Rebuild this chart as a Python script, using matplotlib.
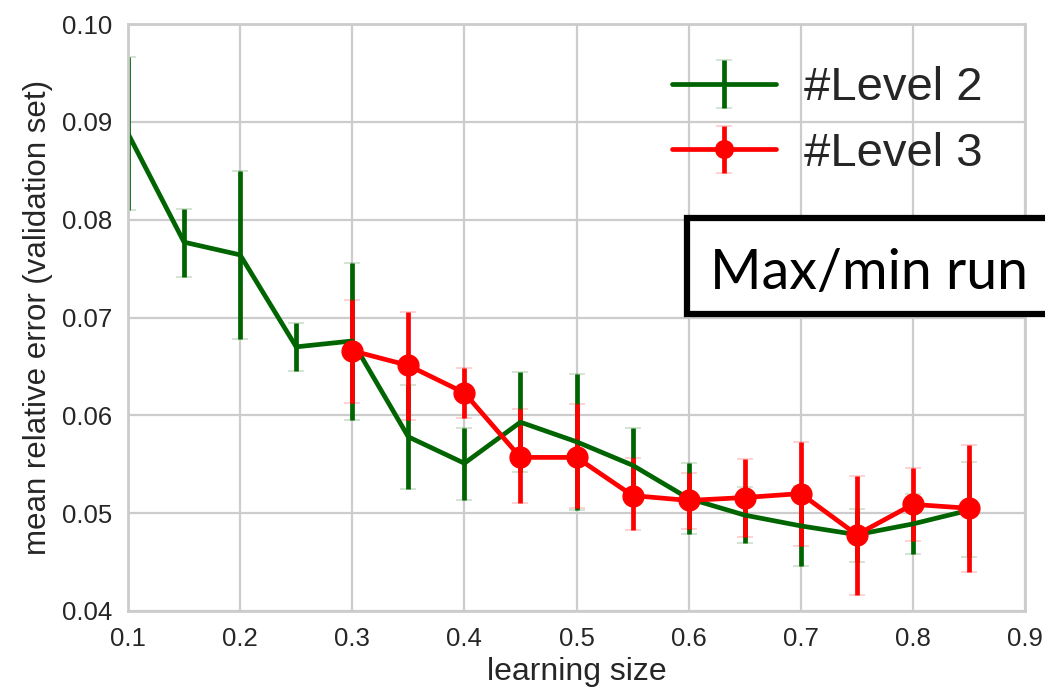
import matplotlib
matplotlib.use("Agg")
import matplotlib.pyplot as plt
import seaborn as sns
from matplotlib.patches import Rectangle

# ---- data ----
x_level2 = [0.10, 0.15, 0.20, 0.25, 0.30, 0.35, 0.40, 0.45, 0.50, 0.55, 0.60, 0.65, 0.70, 0.75, 0.80, 0.85]
mean_level2 = [0.0888, 0.0777, 0.0764, 0.0670, 0.0676, 0.0578, 0.0551, 0.0593, 0.0573, 0.0549, 0.0515, 0.0498, 0.0487, 0.0478, 0.0489, 0.0503]
max_level2 = [0.0966, 0.0811, 0.0850, 0.0694, 0.0756, 0.0631, 0.0587, 0.0644, 0.0642, 0.0587, 0.0551, 0.0527, 0.0528, 0.0504, 0.0520, 0.0552]
min_level2 = [0.0810, 0.0741, 0.0678, 0.0645, 0.0595, 0.0525, 0.0513, 0.0542, 0.0503, 0.0511, 0.0479, 0.0469, 0.0446, 0.0450, 0.0458, 0.0455]

x_level3 = [0.30, 0.35, 0.40, 0.45, 0.50, 0.55, 0.60, 0.65, 0.70, 0.75, 0.80, 0.85]
mean_level3 = [0.0666, 0.0651, 0.0623, 0.0557, 0.0557, 0.0518, 0.0513, 0.0516, 0.0520, 0.0478, 0.0509, 0.0505]
max_level3 = [0.0718, 0.0706, 0.0648, 0.0606, 0.0612, 0.0556, 0.0541, 0.0555, 0.0573, 0.0538, 0.0546, 0.0570]
min_level3 = [0.0613, 0.0595, 0.0597, 0.0510, 0.0505, 0.0483, 0.0484, 0.0476, 0.0466, 0.0416, 0.0472, 0.0440]

labels = ["#Level 2", "#Level 3"]
x_ticks = [0.1, 0.2, 0.3, 0.4, 0.5, 0.6, 0.7, 0.8, 0.9]
y_ticks = [0.04, 0.05, 0.06, 0.07, 0.08, 0.09, 0.10]

sns.set_style("whitegrid")
plt.rcParams['font.family'] = ['Liberation Sans', 'DejaVu Sans']

fig = plt.figure(figsize=(10.45, 6.94), dpi=100)
ax = fig.add_axes([128/1045, 1-611/694, (1025-128)/1045, (611-24)/694])

def err(m, lo, hi):
    return [[a - b for a, b in zip(m, lo)], [c - a for a, c in zip(m, hi)]]

ax.errorbar(x_level2, mean_level2, yerr=err(mean_level2, min_level2, max_level2),
            color='#006400', lw=3.4, elinewidth=3.4, capsize=6, capthick=0.25,
            label=labels[0])
ax.errorbar(x_level3, mean_level3, yerr=err(mean_level3, min_level3, max_level3),
            color='#ff0000', lw=3.4, elinewidth=3.4, capsize=6, capthick=0.25,
            marker='o', markersize=15, label=labels[1])

ax.set_xlim(0.1, 0.9)
ax.set_ylim(0.04, 0.10)
ax.set_xticks(x_ticks)
ax.set_yticks(y_ticks)
ax.set_xticklabels([f"{v:.1f}" for v in x_ticks])
ax.set_yticklabels([f"{v:.2f}" for v in y_ticks])
ax.tick_params(labelsize=18.5, colors='#262626', pad=8)
ax.grid(True, color='#cccccc', lw=1.6)
for s in ax.spines.values():
    s.set_color('#cccccc')
    s.set_linewidth(2)

ax.set_xlabel("learning size", fontsize=23, color='#262626', labelpad=4)
ax.set_ylabel("mean relative error (validation set)", fontsize=22.5, color='#262626', labelpad=6)

leg = ax.legend(loc='upper right', fontsize=34, frameon=False, handlelength=2.2,
                handletextpad=0.6, labelspacing=0.45, markerscale=0.85)
for t in leg.get_texts():
    t.set_color('#262626')

# annotation box (cut off at the right edge)
rect = Rectangle((687/1045, 1-314/694), 0.5, 96/694, transform=fig.transFigure,
                 fill=True, facecolor='white', edgecolor='black', lw=4.5,
                 clip_on=False, zorder=10)
fig.add_artist(rect)
fig.text(710/1045, 1-289/694, "Max/min run", fontsize=40, family=['Lato', 'DejaVu Sans'],
         color='black', va='baseline', ha='left', zorder=11)

fig.savefig("out.png", dpi=100)
